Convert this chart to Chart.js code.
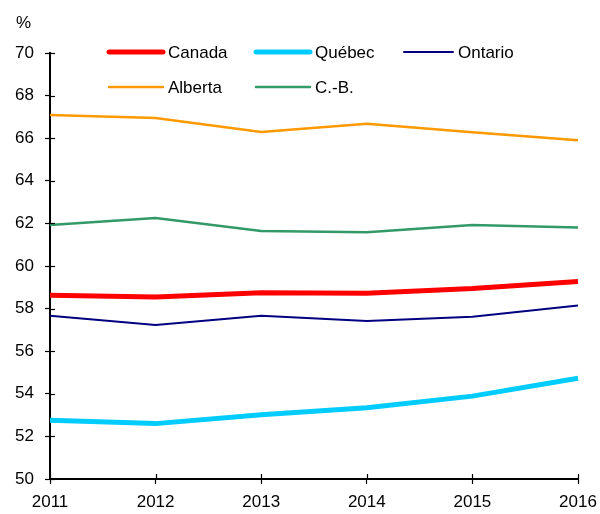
<!DOCTYPE html>
<html>
<head>
<meta charset="utf-8">
<script src="https://cdn.jsdelivr.net/npm/chart.js@4/dist/chart.umd.min.js"></script>
<style>
html,body{margin:0;padding:0;background:#fff;}
#wrap{position:relative;width:600px;height:514px;}
</style>
</head>
<body>
<div id="wrap"><canvas id="c" width="600" height="514"></canvas></div>
<script>
const years = ['2011','2012','2013','2014','2015','2016'];
const canada  = [58.63, 58.55, 58.74, 58.72, 58.94, 59.27];
const quebec  = [52.76, 52.60, 53.02, 53.35, 53.89, 54.73];
const ontario = [57.67, 57.23, 57.66, 57.42, 57.62, 58.14];
const alberta = [67.09, 66.95, 66.29, 66.68, 66.28, 65.90];
const cb      = [61.92, 62.25, 61.64, 61.58, 61.92, 61.81];
const labels  = ['Canada','Québec','Ontario','Alberta','C.-B.'];
const colors  = ['#FF0000','#00CCFF','#000080','#FF9900','#339966'];
const widths  = [5, 5, 2, 2.5, 2.5];
const series  = [canada, quebec, ontario, alberta, cb];

const FONT = '"Liberation Sans", Arial, sans-serif';

const innerTicks = {
  id: 'innerTicks',
  afterDraw(chart) {
    const ctx = chart.ctx;
    const x = chart.scales.x, y = chart.scales.y;
    ctx.save();
    ctx.strokeStyle = '#000';
    ctx.lineWidth = 1.2;
    y.ticks.forEach(t => {
      const py = Math.round(y.getPixelForValue(t.value)) + 0.5;
      ctx.beginPath(); ctx.moveTo(x.left, py); ctx.lineTo(x.left + 5, py); ctx.stroke();
    });
    x.ticks.forEach((t, i) => {
      const px = Math.round(x.getPixelForTick(i)) + 0.5;
      ctx.beginPath(); ctx.moveTo(px, y.bottom); ctx.lineTo(px, y.bottom - 5); ctx.stroke();
    });
    // % label
    ctx.fillStyle = '#000';
    ctx.font = '17px ' + FONT;
    ctx.textAlign = 'left';
    ctx.textBaseline = 'middle';
    ctx.fillText('%', 16, 23);
    // legend
    const pos = [[109, 52], [256, 52], [404, 52], [109, 87], [256, 87]];
    const lens = [54, 54, 49, 54, 54];
    chart.data.datasets.forEach((ds, i) => {
      const [lx, ly] = pos[i];
      ctx.strokeStyle = ds.borderColor;
      ctx.lineWidth = ds.borderWidth;
      ctx.lineCap = 'round';
      ctx.beginPath(); ctx.moveTo(lx, ly); ctx.lineTo(lx + lens[i], ly); ctx.stroke();
      ctx.fillText(ds.label, lx + lens[i] + 5, ly + 1);
    });
    ctx.restore();
  }
};

new Chart(document.getElementById('c'), {
  type: 'line',
  data: {
    labels: years,
    datasets: series.map((d, i) => ({
      label: labels[i],
      data: d,
      borderColor: colors[i],
      backgroundColor: colors[i],
      borderWidth: widths[i],
      pointRadius: 0,
      tension: 0,
      fill: false,
      order: i === 0 ? 1 : (i === 1 ? 0 : 2)
    }))
  },
  options: {
    responsive: false,
    animation: false,
    layout: { padding: { top: 53, right: 22, left: 0, bottom: 0 } },
    plugins: { legend: { display: false }, tooltip: { enabled: false } },
    scales: {
      x: {
        offset: false,
        afterFit(s) { s.height = 35; s.paddingLeft = 0; s.paddingRight = 0; },
        grid: { drawOnChartArea: false, tickLength: 5, color: '#000', tickWidth: 1.2 },
        border: { color: '#000', width: 2 },
        ticks: { color: '#000', font: { family: FONT, size: 17 }, padding: 8, maxRotation: 0, autoSkip: false }
      },
      y: {
        min: 50, max: 70,
        afterFit(s) { s.width = 50; s.paddingTop = 0; s.paddingBottom = 0; },
        grid: { drawOnChartArea: false, tickLength: 5, color: '#000', tickWidth: 1.2 },
        border: { color: '#000', width: 2 },
        ticks: { stepSize: 2, color: '#000', font: { family: FONT, size: 17 }, padding: 11 }
      }
    }
  },
  plugins: [innerTicks]
});
</script>
</body>
</html>
